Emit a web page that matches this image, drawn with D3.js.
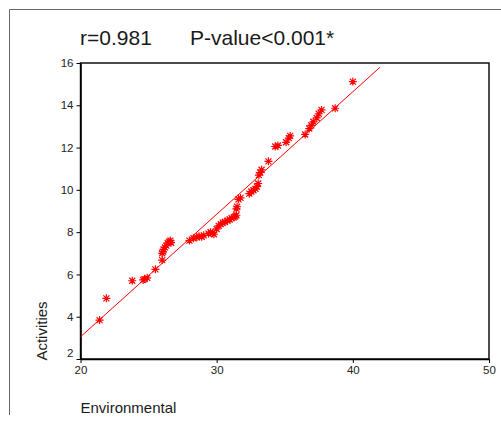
<!DOCTYPE html>
<html>
<head>
<meta charset="utf-8">
<script src="https://cdn.jsdelivr.net/npm/d3@7"></script>
<style>
  body { margin: 0; background: #fff; }
  svg { display: block; font-family: Arial, "Liberation Sans", sans-serif; }
</style>
</head>
<body>
<svg id="chart" width="501" height="421"></svg>
<script>
// data
let environmental = [21.4, 21.9, 23.8, 24.6, 24.7, 24.9, 25.5, 26.0, 26.0, 26.05,
    26.1, 26.2, 26.3, 26.4, 26.5, 26.6, 26.65, 28.0, 28.3, 28.55,
    28.7, 28.9, 29.05, 29.4, 29.55, 29.7, 29.8, 30.0, 30.15, 30.3,
    30.45, 30.6, 30.8, 30.95, 31.1, 31.25, 31.35, 31.45, 31.45, 31.5,
    31.6, 31.75, 32.4, 32.55, 32.7, 32.85, 32.95, 33.05, 33.1, 33.2,
    33.3, 33.8, 34.3, 34.5, 35.1, 35.3, 35.4, 36.5, 36.8, 36.95,
    37.1, 37.35, 37.5, 37.7, 38.7, 40.0];
let activities = [3.84, 4.87, 5.70, 5.74, 5.78, 5.84, 6.24, 6.68, 7.0, 7.08,
    7.18, 7.28, 7.36, 7.48, 7.55, 7.60, 7.50, 7.60, 7.71, 7.76,
    7.80, 7.78, 7.85, 7.93, 8.0, 7.95, 7.90, 8.15, 8.30, 8.38,
    8.45, 8.48, 8.55, 8.60, 8.66, 8.70, 8.74, 8.80, 9.10, 9.20,
    9.55, 9.62, 9.82, 9.92, 9.98, 10.05, 10.15, 10.30, 10.70, 10.82,
    10.95, 11.35, 12.05, 12.10, 12.25, 12.45, 12.55, 12.62, 12.90, 13.05,
    13.22, 13.40, 13.60, 13.78, 13.86, 15.12];

// fitted line ends
let fitX = [20, 42];
let fitY = [3.05, 15.8];

let xTicks = [20, 30, 40, 50];
let yTicks = [2, 4, 6, 8, 10, 12, 14, 16];
let titleLeft = "r=0.981";
let titleRight = "P-value<0.001*";

let chart = d3.select("#chart");

// frame round the figure
chart.append("path")
    .attr("d", "M9.5,415V9.5H501")
    .attr("fill", "none")
    .attr("stroke", "#666")
    .attr("stroke-width", 1);

let x = d3.scaleLinear()
    .domain([20, 50])
    .range([80.5, 489]);

let y = d3.scaleLinear()
    .domain([2, 16])
    .range([359, 63]);

// box
chart.append("rect")
    .attr("x", x(20))
    .attr("y", y(16))
    .attr("width", x(50) - x(20))
    .attr("height", y(2) - y(16))
    .attr("fill", "none")
    .attr("stroke", "#000")
    .attr("stroke-width", 1.4);

// x axis
let xAxis = d3.axisBottom(x)
    .tickValues(xTicks)
    .tickSize(4)
    .tickSizeOuter(0)
    .tickFormat(d3.format("d"));
let xAxisGroup = chart.append("g")
    .attr("transform", "translate(0," + y(2) + ")")
    .call(xAxis)
    .attr("font-family", null)
    .attr("font-size", null);
xAxisGroup.select(".domain").attr("stroke-width", 1.6);
xAxisGroup.selectAll("text")
    .attr("y", 7)
    .style("font-size", "11.5px")
    .style("fill", "#222");

// y axis
let yAxis = d3.axisLeft(y)
    .tickValues(yTicks)
    .tickSize(4)
    .tickSizeOuter(0)
    .tickFormat(d3.format("d"));
let yAxisGroup = chart.append("g")
    .attr("transform", "translate(" + x(20) + ",0)")
    .call(yAxis)
    .attr("font-family", null)
    .attr("font-size", null);
yAxisGroup.select(".domain").attr("stroke-width", 1.6);
yAxisGroup.selectAll("text")
    .attr("x", -7)
    .style("font-size", "11.5px")
    .style("fill", "#222");
// lowest label sits a bit above the corner
yAxisGroup.selectAll(".tick")
    .filter(function(d) { return d === 2; })
    .select("text")
    .attr("dy", "-0.25em");

// fit line
chart.append("path")
    .datum(d3.zip(fitX, fitY))
    .attr("fill", "none")
    .attr("stroke", "#ff0000")
    .attr("stroke-width", 1)
    .attr("d", d3.line()
        .x(function(d) { return x(d[0]); })
        .y(function(d) { return y(d[1]); })
    );

// asterisk markers
let r = 4;
let star = "M" + (-r) + ",0H" + r + "M0," + (-r) + "V" + r +
    "M" + (-r * 0.75) + "," + (-r * 0.75) + "L" + (r * 0.75) + "," + (r * 0.75) +
    "M" + (-r * 0.75) + "," + (r * 0.75) + "L" + (r * 0.75) + "," + (-r * 0.75);

chart.selectAll("mystars")
    .data(d3.zip(environmental, activities))
    .enter()
    .append("path")
    .attr("d", star)
    .attr("transform", function(d) { return "translate(" + x(d[0]) + "," + y(d[1]) + ")"; })
    .attr("fill", "none")
    .attr("stroke", "#ff0000")
    .attr("stroke-width", 1.2);

// title
chart.append("text")
    .text(titleLeft)
    .attr("x", 80)
    .attr("y", 45)
    .style("font-size", "21px")
    .style("fill", "#1a1a1a");
chart.append("text")
    .text(titleRight)
    .attr("x", 190)
    .attr("y", 45)
    .style("font-size", "21px")
    .style("fill", "#1a1a1a");

// axis labels
chart.append("text")
    .text("Activities")
    .attr("transform", "translate(47,331) rotate(-90)")
    .style("text-anchor", "middle")
    .style("font-size", "15px")
    .style("fill", "#1a1a1a");

chart.append("text")
    .text("Environmental")
    .attr("x", 80.5)
    .attr("y", 413)
    .style("font-size", "15px")
    .style("fill", "#1a1a1a");
</script>
</body>
</html>
